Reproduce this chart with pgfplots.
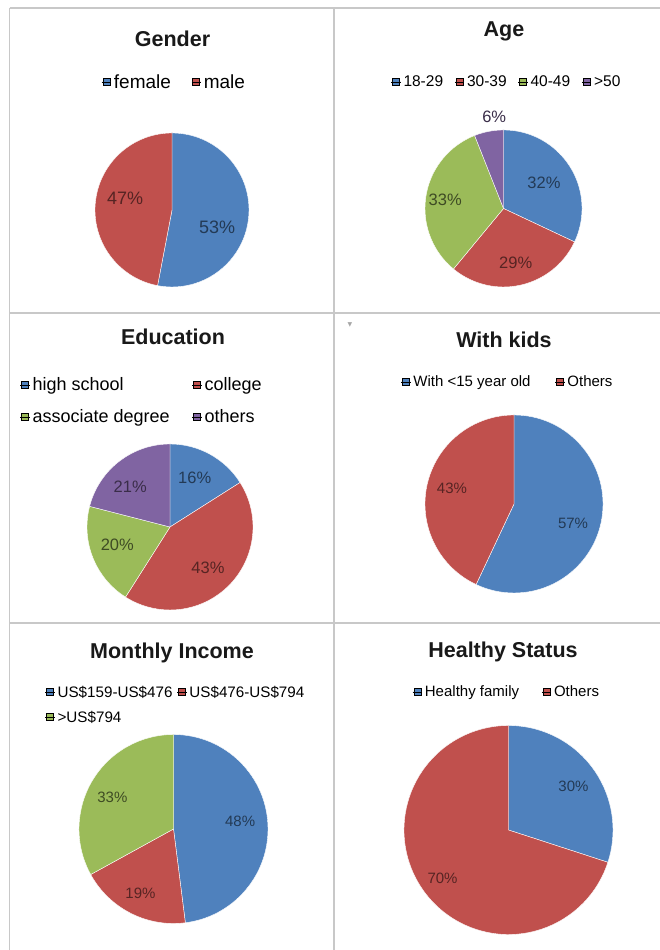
\documentclass[border=0pt]{standalone}
\usepackage{pgfplots}
\pgfplotsset{compat=1.18}
\usepackage{pgfplotstable}
\usepackage{fontspec}
\setmainfont{Liberation Sans}
\newfontfamily\dejavu{DejaVu Sans}

\definecolor{pc0}{HTML}{4F81BD}
\definecolor{pc1}{HTML}{C0504D}
\definecolor{pc2}{HTML}{9BBB59}
\definecolor{pc3}{HTML}{8064A2}
\colorlet{lc0}{pc0!45!black}
\colorlet{lc1}{pc1!45!black}
\colorlet{lc2}{pc2!40!black}
\colorlet{lc3}{pc3!45!black}
\definecolor{framegray}{HTML}{C8C8C8}

% pct = share in percent, lr = label radius (fraction of R), da = label angle shift
\pgfplotstableread{
pct lr da
53 0.63 -16
47 0.63 -9
}\tgender
\pgfplotstableread{
pct lr da
32 0.61 0
29 0.71 0
33 0.75 1
6 1.17 -5
}\tage
\pgfplotstableread{
pct lr da
16 0.66 2
43 0.67 -2
20 0.67 -3
21 0.68 7
}\tedu
\pgfplotstableread{
pct lr da
57 0.70 -6
43 0.72 -2
}\tkids
\pgfplotstableread{
pct lr da
48 0.71 3
19 0.77 0
33 0.73 3
}\tincome
\pgfplotstableread{
pct lr da
30 0.75 -2
70 0.78 0
}\thealth

% #1 table, #2 cx (px), #3 cy (px from top), #4 radius (px), #5 label font size
\newcommand\drawpie[5]{%
 \pgfplotsextra{%
  \pgfplotstablegetrowsof{#1}%
  \pgfmathtruncatemacro\nlast{\pgfplotsretval-1}%
  \pgfmathsetmacro\cyy{950-#3}%
  \gdef\angA{90}%
  \foreach \i in {0,...,\nlast}{%
   \pgfplotstablegetelem{\i}{pct}\of{#1}\let\vp\pgfplotsretval
   \pgfplotstablegetelem{\i}{lr}\of{#1}\let\vr\pgfplotsretval
   \pgfplotstablegetelem{\i}{da}\of{#1}\let\vd\pgfplotsretval
   \pgfmathsetmacro\angB{\angA-3.6*\vp}%
   \pgfmathsetmacro\angM{(\angA+\angB)/2+\vd}%
   \pgfmathsetmacro\rl{\vr*#4}%
   \fill[pc\i, draw=white, line width=0.4pt] (axis cs:#2,\cyy) -- ++(\angA:#4pt) arc[start angle=\angA, end angle=\angB, radius=#4pt] -- cycle;
   \path (axis cs:#2,\cyy) ++(\angM:\rl pt) node[text=lc\i, font=\fontsize{#5}{#5}\selectfont] {\vp\%};
   \xdef\angA{\angB}%
  }}}

\pgfplotsset{
 panel/.style={x=1pt, y=1pt, xmin=0, xmax=660, ymin=0, ymax=950,
   enlargelimits=false, hide axis, clip=false, at={(0,0)}, anchor=south west,
   legend image code/.code={\fill[##1] (0pt,-3pt) rectangle (7pt,4pt);\path (-1pt,0pt) -- (8.5pt,0pt);},
   legend cell align=left,
   legend style={draw=none, fill=none, inner sep=0pt, nodes={inner xsep=2.5pt}}},
}

\begin{document}
\begin{tikzpicture}[x=1pt,y=1pt]
\fill[white] (0,0) rectangle (660,950);
\useasboundingbox (0,0) rectangle (660,950);

% panel frames
\draw[framegray, line width=1.5pt] (9.5,942) -- (660,942);
\draw[framegray, line width=1.5pt] (9.5,942) -- (9.5,0);
\draw[framegray, line width=1.5pt] (334,942) -- (334,0);
\draw[framegray, line width=1.5pt] (9.5,950-313) -- (660,950-313);
\draw[framegray, line width=1.5pt] (9.5,950-623) -- (660,950-623);

% Gender
\begin{axis}[panel, legend columns=-1,
  legend style={at={(0.2644,0.9137)}, anchor=center, font=\fontsize{19}{21}\selectfont,
  /tikz/every even column/.append style={column sep=18pt}}]
\addlegendimage{fill=pc0}\addlegendentry{female}
\addlegendimage{fill=pc1}\addlegendentry{male}
\drawpie{\tgender}{172}{210}{77}{18}
\end{axis}

% Age
\begin{axis}[panel, legend columns=-1,
  legend style={at={(0.7682,0.9137)}, anchor=center, font=\fontsize{15.5}{17}\selectfont,
  /tikz/every even column/.append style={column sep=9pt}}]
\addlegendimage{fill=pc0}\addlegendentry{18-29}
\addlegendimage{fill=pc1}\addlegendentry{30-39}
\addlegendimage{fill=pc2}\addlegendentry{40-49}
\addlegendimage{fill=pc3}\addlegendentry{>50}
\drawpie{\tage}{503.5}{208.5}{78.5}{16.5}
\end{axis}

% Education
\begin{axis}[panel, legend columns=2,
  legend style={at={(0.0303,0.5779)}, anchor=west, font=\fontsize{18}{20}\selectfont,
  row sep=13pt,
  /tikz/every even column/.append style={column sep=20pt}}]
\addlegendimage{fill=pc0}\addlegendentry{high school}
\addlegendimage{fill=pc1}\addlegendentry{college}
\addlegendimage{fill=pc2}\addlegendentry{associate degree}
\addlegendimage{fill=pc3}\addlegendentry{others}
\drawpie{\tedu}{170}{527}{83}{16.5}
\end{axis}

% With kids
\begin{axis}[panel, legend columns=-1,
  legend style={at={(0.7697,0.5979)}, anchor=center, font=\fontsize{15}{17}\selectfont,
  /tikz/every even column/.append style={column sep=22pt}}]
\addlegendimage{fill=pc0}\addlegendentry{With <15 year old}
\addlegendimage{fill=pc1}\addlegendentry{Others}
\drawpie{\tkids}{514}{504}{89}{15}
\end{axis}

% Monthly income
\begin{axis}[panel, legend columns=2,
  legend style={at={(0.0682,0.2579)}, anchor=west, font=\fontsize{15.2}{17}\selectfont,
  row sep=8pt,
  /tikz/every even column/.append style={column sep=2pt}}]
\addlegendimage{fill=pc0}\addlegendentry{US\$159-US\$476}
\addlegendimage{fill=pc1}\addlegendentry{US\$476-US\$794}
\addlegendimage{fill=pc2}\addlegendentry{>US\$794}
\drawpie{\tincome}{173.5}{829}{94.5}{15}
\end{axis}

% Healthy status
\begin{axis}[panel, legend columns=-1,
  legend style={at={(0.7682,0.2716)}, anchor=center, font=\fontsize{15}{17}\selectfont,
  /tikz/every even column/.append style={column sep=20pt}}]
\addlegendimage{fill=pc0}\addlegendentry{Healthy family}
\addlegendimage{fill=pc1}\addlegendentry{Others}
\drawpie{\thealth}{508.5}{830}{104.5}{15}
\end{axis}

% titles
\begin{scope}[every node/.style={anchor=base, font=\bfseries\fontsize{21.5}{24}\selectfont, text=black!90}]
\node at (172.5,903) {Gender};
\node at (504,913) {Age};
\node at (173,605) {Education};
\node at (504,602) {With kids};
\node at (172,291) {Monthly Income};
\node at (503,292) {Healthy Status};
\end{scope}
\node[text=gray!70, font=\dejavu\fontsize{6}{6}\selectfont] at (350,625) {▼};
\end{tikzpicture}
\end{document}
